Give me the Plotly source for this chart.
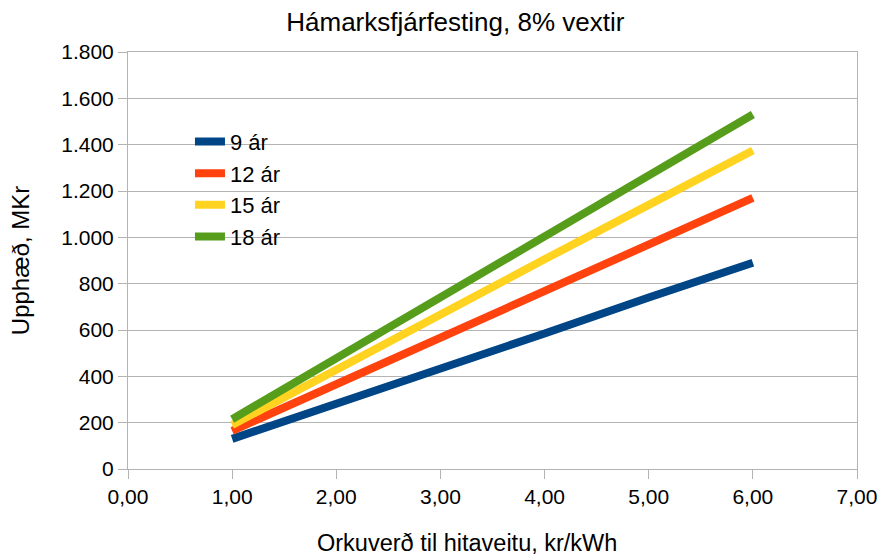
import plotly.graph_objects as go

price = [1.0, 2.0, 3.0, 4.0, 5.0, 6.0]
series_names = ["9 ár", "12 ár", "15 ár", "18 ár"]
v9 = [130, 280, 435, 585, 740, 890]
v12 = [165, 365, 570, 770, 970, 1170]
v15 = [190, 430, 665, 905, 1140, 1375]
v18 = [215, 480, 740, 1005, 1265, 1530]
colors = ["#004586", "#ff420e", "#ffd320", "#579d1c"]

x_ticks = [0, 1, 2, 3, 4, 5, 6, 7]
y_ticks = [0, 200, 400, 600, 800, 1000, 1200, 1400, 1600, 1800]

fig = go.Figure()
for name, vals, col in zip(series_names, [v9, v12, v15, v18], colors):
    fig.add_trace(go.Scatter(x=price, y=vals, name=name, mode="lines",
                             line=dict(color=col, width=8)))

font = "Liberation Sans, Arial, sans-serif"
fig.update_layout(
    width=879, height=555,
    paper_bgcolor="white", plot_bgcolor="white",
    margin=dict(l=128, r=22, t=52, b=86),
    separators=",.",
    font=dict(family=font, size=21, color="#000000"),
    title=dict(text="Hámarksfjárfesting, 8% vextir", x=0.518, xanchor="center",
               y=0.96, yanchor="middle", font=dict(size=26, family=font)),
    showlegend=True,
    legend=dict(x=0.085, y=0.835, xanchor="left", yanchor="top",
                bgcolor="rgba(0,0,0,0)", font=dict(size=22, family=font),
                itemwidth=30, tracegroupgap=0),
    xaxis=dict(range=[0, 7], tickvals=x_ticks, tickformat=".2f", automargin=False,
               showgrid=False, zeroline=False,
               showline=True, linecolor="#b3b3b3", linewidth=1, mirror=True,
               ticks="outside", ticklen=9, tickcolor="#b3b3b3",
               tickfont=dict(size=21)),
    yaxis=dict(range=[0, 1800], tickvals=y_ticks, tickformat=",d", automargin=False,
               showgrid=True, gridcolor="#b3b3b3", gridwidth=1, zeroline=False,
               showline=True, linecolor="#b3b3b3", linewidth=1, mirror=True,
               ticks="outside", ticklen=9, tickcolor="#b3b3b3",
               tickfont=dict(size=21), title=dict(text="Upphæð, MKr",
                                                  font=dict(size=24), standoff=24)),
    annotations=[dict(text="Orkuverð til hitaveitu, kr/kWh", xref="paper", yref="paper",
                      x=0.465, y=-0.178, xanchor="center", yanchor="middle",
                      showarrow=False, font=dict(size=23.5, family=font))],
)

fig.write_html("out.html", config={"displayModeBar": False},
               post_script="document.body.style.margin='0px';")
